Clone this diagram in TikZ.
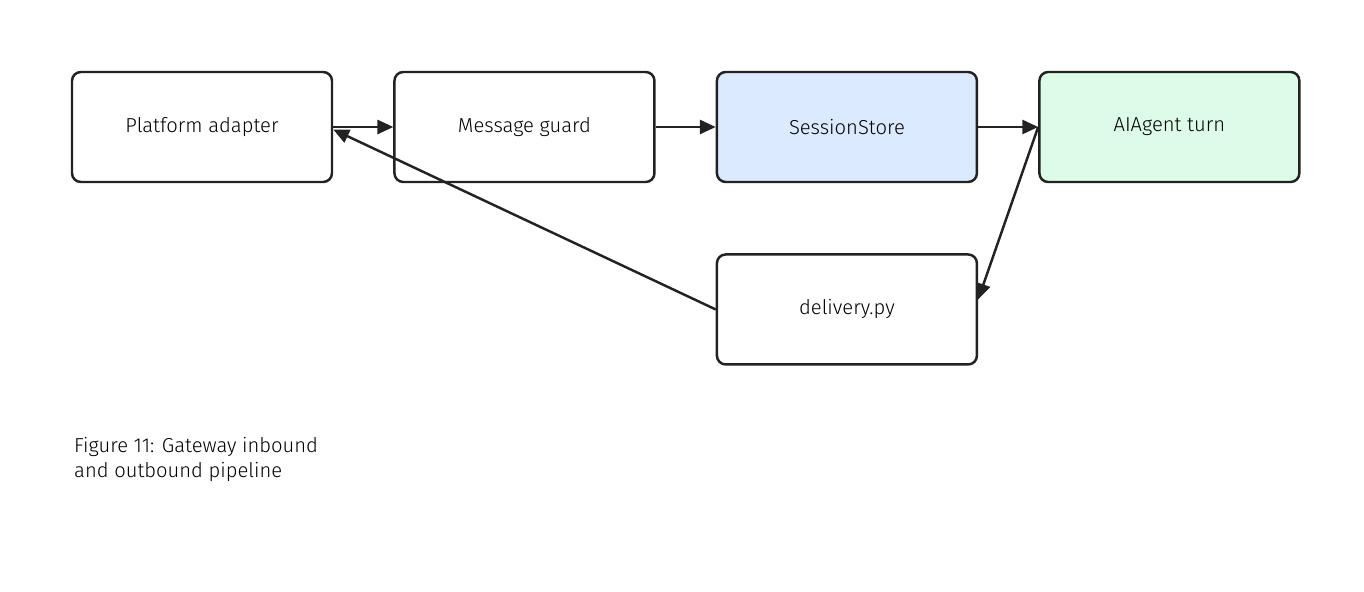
\documentclass[tikz,border=0pt]{standalone}
\usepackage{fontspec}
\setmainfont{Fira Sans}[UprightFont=* Light]
\usepackage{tikz}
\usetikzlibrary{arrows.meta,positioning}
\definecolor{edgedark}{HTML}{222222}
\definecolor{storeblue}{HTML}{DBEAFE}
\definecolor{agentgreen}{HTML}{DCFCE7}

\begin{document}
\begin{tikzpicture}[
    >={Triangle[length=9pt,width=8pt]},
    every node/.style={font=\fontsize{11.5pt}{14pt}\selectfont},
    stage/.style={draw=edgedark, line width=1.4pt, rounded corners=5pt,
        minimum width=5.2cm, minimum height=2.2cm, fill=white},
    link/.style={->, draw=edgedark, line width=1.4pt}
]
    \useasboundingbox (0,0) rectangle (27.28,-11.84);

    % Pipeline stages
    \node[stage] (adapter) at (4.04,-2.54) {Platform adapter};
    \node[stage, right=1.2cm of adapter] (guard) {Message guard};
    \node[stage, fill=storeblue, right=1.2cm of guard] (store) {SessionStore};
    \node[stage, fill=agentgreen, right=1.2cm of store] (agent) {AIAgent turn};
    \node[stage, below=1.4cm of store] (delivery) {delivery.py};

    % Inbound
    \draw[link] (adapter) -- (guard);
    \draw[link] (guard) -- (store);
    \draw[link] (store) -- (agent);

    % Outbound
    \draw[link] (agent.west) -- ([yshift=0.2cm]delivery.east);
    \draw[link] (delivery.west) -- ([yshift=-0.05cm]adapter.east);

    % Caption
    \node[anchor=north west, align=left] at (1.36,-8.62)
        {Figure 11: Gateway inbound\\and outbound pipeline};
\end{tikzpicture}
\end{document}
